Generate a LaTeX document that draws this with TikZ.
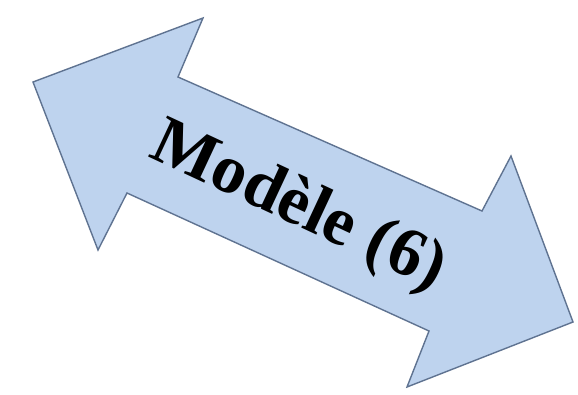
\documentclass[tikz,border=0pt]{standalone}
\usepackage{fontspec}
\setmainfont{Liberation Serif}
\usepackage{xcolor}
\usepackage{tikz}
\usetikzlibrary{positioning, calc}

\definecolor{arrowfill}{RGB}{190,211,238}
\definecolor{arrowline}{RGB}{95,115,145}

\begin{document}
\begin{tikzpicture}[x=1pt, y=-1pt,
        bigarrow/.style={fill=arrowfill, draw=arrowline, line width=1.4pt, line join=miter},
        label/.style={rotate=-25, font=\fontsize{69}{76}\selectfont\bfseries, inner sep=0pt}]
        \useasboundingbox (0,0) rectangle (578,394);

        % corners of the double arrow
        \coordinate (tipL) at (33,82);
        \coordinate (topL) at (203,18);
        \coordinate (notchTL) at (178,77);
        \coordinate (notchTR) at (482,211);
        \coordinate (topR) at (511,156);
        \coordinate (tipR) at (573,322);
        \coordinate (botR) at (407,387);
        \coordinate (notchBR) at (429,331);
        \coordinate (notchBL) at (127,193);
        \coordinate (botL) at (98,250);

        \draw[bigarrow] (tipL) -- (topL) -- (notchTL) -- (notchTR) -- (topR) -- (tipR)
            -- (botR) -- (notchBR) -- (notchBL) -- (botL) -- cycle;

        \node[label] (name) at (298,208) {Modèle (6)};
    \end{tikzpicture}
\end{document}
